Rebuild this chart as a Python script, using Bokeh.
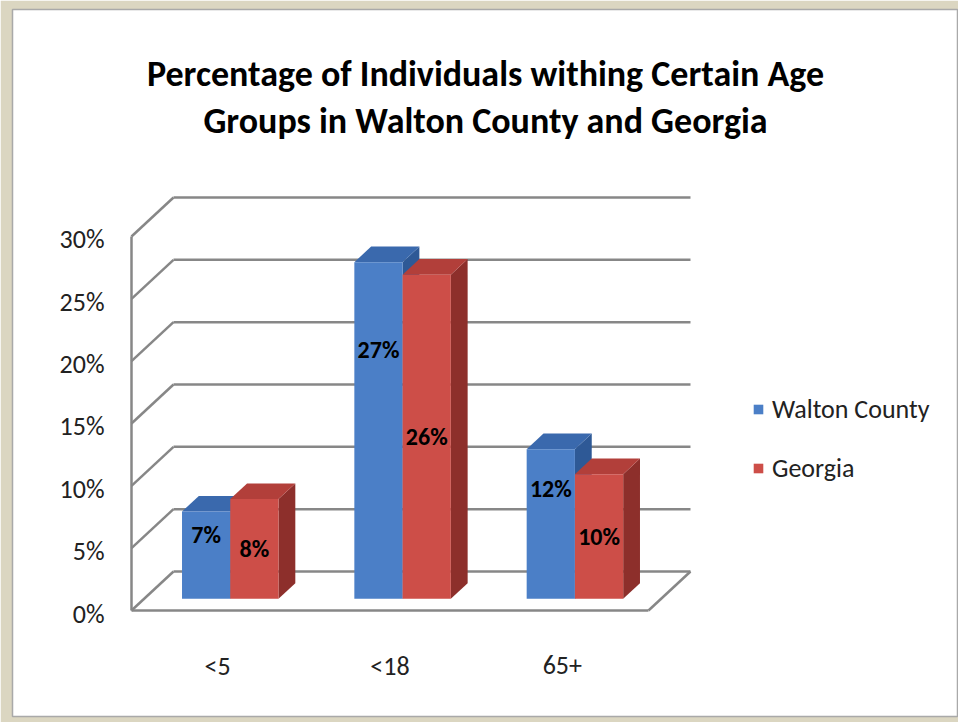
from bokeh.plotting import figure
from bokeh.models import Range1d, Legend, LegendItem
from bokeh.core.properties import value
from bokeh.embed import file_html
from bokeh.resources import INLINE

# ---- data -------------------------------------------------------------
categories = ["<5", "<18", "65+"]
walton_county = [7, 27, 12]
georgia = [8, 26, 10]
series_names = ["Walton County", "Georgia"]
y_ticks = [0, 5, 10, 15, 20, 25, 30]
y_tick_labels = ["0%", "5%", "10%", "15%", "20%", "25%", "30%"]
title_lines = ["Percentage of Individuals withing Certain Age",
               "Groups in Walton County and Georgia"]

# ---- layout / style ---------------------------------------------------
W, H = 958, 722
FONT = "Carlito, 'Liberation Sans Narrow', Lato, sans-serif"
PANEL = dict(left=12, top=9, right=958, bottom=716)
ORIGIN_PX, CAT_PX = 131.0, 172.33      # front-left corner, pixels per category
ZERO_PY, PCT_PX = 610.0, 12.467        # 0% on the front edge, pixels per percent
DEPTH_X = 42.0 / CAT_PX                # full depth of the floor, data units
DEPTH_Y = 39.0 / PCT_PX
BAR_D0, BAR_D1 = 0.30, 0.70            # bar front/back as fraction of depth
BAR_W = 0.28
GRID_COLOR = "#878787"
FACE_COLORS = [
    dict(front="#4b7fc7", top="#3a69ad", side="#2e5996"),
    dict(front="#cd4e48", top="#b23f3a", side="#8d2f2b"),
]
LABEL_FRAC = [0.74, 0.50]              # label height within each series' bar


def v_of(py):
    return (ZERO_PY - py) / PCT_PX


def x_of(px):
    return (px - ORIGIN_PX) / CAT_PX


p = figure(width=W, height=H, output_backend="svg", toolbar_location=None,
           x_range=Range1d(x_of(PANEL["left"]), x_of(PANEL["right"])),
           y_range=Range1d(v_of(PANEL["bottom"]), v_of(PANEL["top"])),
           min_border_left=PANEL["left"], min_border_top=PANEL["top"],
           min_border_right=W - PANEL["right"], min_border_bottom=H - PANEL["bottom"])
p.axis.visible = False
p.grid.visible = False
p.background_fill_color = "white"
p.border_fill_color = "#dbd6c1"
p.outline_line_color = "#a9a9a9"
p.outline_line_width = 1.5

n = len(categories)
top_tick = max(y_ticks)

# ---- walls and floor ---------------------------------------------------
# back wall gridlines
p.multi_line(xs=[[DEPTH_X, n + DEPTH_X] for _ in y_ticks],
             ys=[[t + DEPTH_Y, t + DEPTH_Y] for t in y_ticks],
             line_color=GRID_COLOR, line_width=2.5)
# side wall gridlines
p.multi_line(xs=[[0, DEPTH_X] for _ in y_ticks],
             ys=[[t, t + DEPTH_Y] for t in y_ticks],
             line_color=GRID_COLOR, line_width=2.5)
# side wall front edge, floor front and right edges
p.multi_line(xs=[[0, 0], [0, n], [n, n + DEPTH_X]],
             ys=[[0, top_tick], [0, 0], [0, DEPTH_Y]],
             line_color=GRID_COLOR, line_width=2.5)

# ---- 3D columns --------------------------------------------------------
ox, oy = BAR_D0 * DEPTH_X, BAR_D0 * DEPTH_Y
ddx, ddy = (BAR_D1 - BAR_D0) * DEPTH_X, (BAR_D1 - BAR_D0) * DEPTH_Y

legend_renderers = []
for s, values in enumerate([walton_county, georgia]):
    fronts, tops, sides = ([], []), ([], []), ([], [])
    lx, ly, lt = [], [], []
    for i, v in enumerate(values):
        c = i + 0.5
        x0 = c - BAR_W + s * BAR_W + ox
        x1 = x0 + BAR_W
        fronts[0].append([x0, x1, x1, x0])
        fronts[1].append([oy, oy, v + oy, v + oy])
        tops[0].append([x0, x1, x1 + ddx, x0 + ddx])
        tops[1].append([v + oy, v + oy, v + oy + ddy, v + oy + ddy])
        sides[0].append([x1, x1 + ddx, x1 + ddx, x1])
        sides[1].append([oy, oy + ddy, v + oy + ddy, v + oy])
        lx.append((x0 + x1) / 2)
        ly.append(v * LABEL_FRAC[s] + oy)
        lt.append(f"{v}%")
    col = FACE_COLORS[s]
    p.patches(xs=sides[0], ys=sides[1], fill_color=col["side"], line_color=None)
    p.patches(xs=tops[0], ys=tops[1], fill_color=col["top"], line_color=None)
    r = p.patches(xs=fronts[0], ys=fronts[1], fill_color=col["front"], line_color=None)
    legend_renderers.append(r)
    p.text(x=lx, y=ly, text=lt, text_font=value(FONT), text_font_style="bold",
           text_font_size="24px", text_color="black",
           text_align="center", text_baseline="middle")

# ---- axis labels -------------------------------------------------------
p.text(x=[0] * len(y_ticks), y=y_ticks, text=y_tick_labels, x_offset=-27, y_offset=3,
       text_font=value(FONT), text_font_size="26px", text_color="#222222",
       text_align="right", text_baseline="middle")
p.text(x=[i + 0.5 for i in range(n)], y=[0] * n, text=categories, y_offset=55,
       text_font=value(FONT), text_font_size="26px", text_color="#222222",
       text_align="center", text_baseline="middle")

# ---- title -------------------------------------------------------------
xc = (x_of(PANEL["left"]) + x_of(PANEL["right"])) / 2
p.text(x=[xc, xc], y=[v_of(73), v_of(120)], text=title_lines,
       text_font=value(FONT), text_font_style="bold", text_font_size="36px",
       text_color="black", text_align="center", text_baseline="middle")

# ---- legend ------------------------------------------------------------
legend = Legend(items=[LegendItem(label=name, renderers=[r])
                       for name, r in zip(series_names, legend_renderers)],
                location=(740, 232), orientation="vertical",
                glyph_width=12, glyph_height=12, label_standoff=8,
                label_height=32, spacing=27, padding=0, margin=0,
                label_text_font=FONT, label_text_font_size="26px",
                label_text_color="#222222",
                border_line_color=None, background_fill_alpha=0)
p.add_layout(legend)

open("out.html", "w").write(file_html(p, INLINE))
